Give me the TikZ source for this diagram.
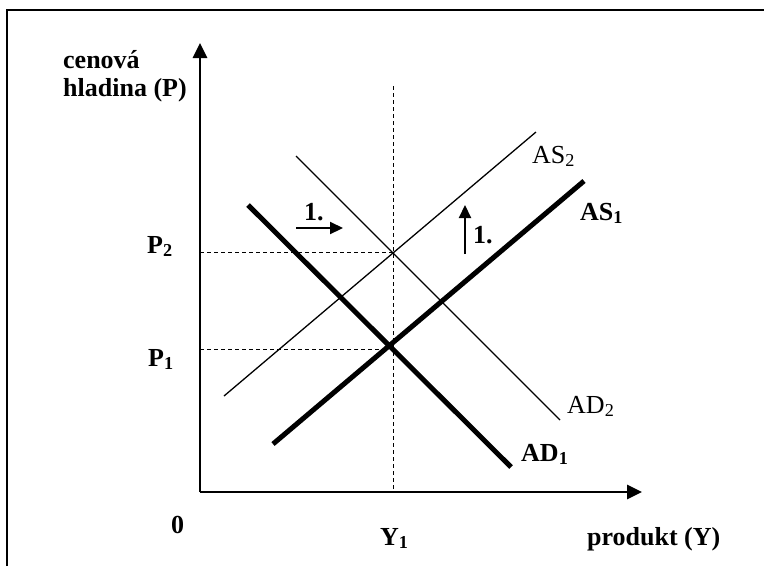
\documentclass[tikz,border=0pt]{standalone}
\usepackage{fontspec}
\setmainfont{Liberation Serif}
\usepackage{tikz}
\usetikzlibrary{arrows.meta}

\begin{document}
\begin{tikzpicture}[x=1pt,y=-1pt,>=Triangle,
  lbl/.style={anchor=base west,inner sep=0pt,font=\fontsize{26}{26}\selectfont},
  curvethick/.style={line width=5pt},
  curvethin/.style={line width=1.3pt},
  guide/.style={dashed,line width=1pt,dash pattern=on 4pt off 3pt},
  shiftarrow/.style={->,line width=2.2pt,>={Triangle[length=13pt,width=12pt]}}]
  \useasboundingbox (0,0) rectangle (764,566);
  % frame
  \draw[line width=1.5pt] (7,566) -- (7,10) -- (764,10);
  % axes
  \coordinate (O) at (200,492);
  \coordinate (ytip) at (200,43);
  \coordinate (xtip) at (642,492);
  \draw[line width=2.8pt,-{Triangle[length=15pt,width=14pt]}] (O) -- (ytip);
  \draw[line width=2.8pt,-{Triangle[length=15pt,width=14pt]}] (O) -- (xtip);
  % guides
  \coordinate (y1top) at (393,86);
  \coordinate (y1bot) at (393,492);
  \coordinate (p2a) at (200,252);
  \coordinate (p2b) at (393,252);
  \coordinate (p1a) at (200,349);
  \coordinate (p1b) at (388,349);
  \draw[guide] (y1top) -- (y1bot);
  \draw[guide] (p2a) -- (p2b);
  \draw[guide] (p1a) -- (p1b);
  % curves
  \coordinate (ad1a) at (248,205);
  \coordinate (ad1b) at (511,467);
  \coordinate (as1a) at (273,444);
  \coordinate (as1b) at (584,181);
  \coordinate (ad2a) at (296,156);
  \coordinate (ad2b) at (560,420);
  \coordinate (as2a) at (224,396);
  \coordinate (as2b) at (536,132);
  \draw[curvethick] (ad1a) -- (ad1b);
  \draw[curvethick] (as1a) -- (as1b);
  \draw[curvethin] (ad2a) -- (ad2b);
  \draw[curvethin] (as2a) -- (as2b);
  % shifts
  \coordinate (sa) at (296,228);
  \coordinate (sb) at (343,228);
  \coordinate (ua) at (465,254);
  \coordinate (ub) at (465,205);
  \draw[shiftarrow] (sa) -- (sb);
  \draw[shiftarrow] (ua) -- (ub);
  % labels
  \node[lbl] (cen) at (63,68) {\textbf{cenová}};
  \node[lbl] (hlad) at (63,96) {\textbf{hladina (P)}};
  \node[lbl] (P2) at (147,253) {\textbf{P\textsubscript{2}}};
  \node[lbl] (P1) at (148,366) {\textbf{P\textsubscript{1}}};
  \node[lbl] (zero) at (171,533) {\textbf{0}};
  \node[lbl] (Y1) at (380,545) {\textbf{Y\textsubscript{1}}};
  \node[lbl] (prod) at (587,545) {\textbf{produkt (Y)}};
  \node[lbl] (AS2) at (532,163) {AS\textsubscript{2}};
  \node[lbl] (AS1) at (580,220) {\textbf{AS\textsubscript{1}}};
  \node[lbl] (AD2) at (567,413) {AD\textsubscript{2}};
  \node[lbl] (AD1) at (521,461) {\textbf{AD\textsubscript{1}}};
  \node[lbl] (s1) at (304,220) {\textbf{1.}};
  \node[lbl] (u1) at (473,243) {\textbf{1.}};
\end{tikzpicture}
\end{document}
